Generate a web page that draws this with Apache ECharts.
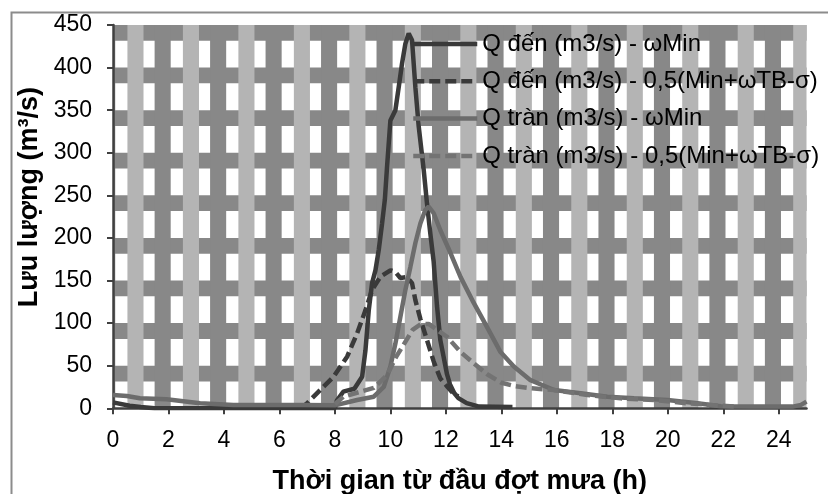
<!DOCTYPE html>
<html>
<head>
<meta charset="utf-8">
<script src="https://cdn.jsdelivr.net/npm/echarts@6/dist/echarts.min.js"></script>
<style>
  html, body { margin: 0; padding: 0; background: #ffffff; }
  #chart { width: 828px; height: 494px; }
</style>
</head>
<body>
<div id="chart"></div>
<script>
// ---- data ----
const xTicks = [0, 2, 4, 6, 8, 10, 12, 14, 16, 18, 20, 22, 24];
const yTicks = [0, 50, 100, 150, 200, 250, 300, 350, 400, 450];

const seriesNames = [
  'Q đến (m3/s) - ωMin',
  'Q đến (m3/s) - 0,5(Min+ωTB-σ)',
  'Q tràn (m3/s) - ωMin',
  'Q tràn (m3/s) - 0,5(Min+ωTB-σ)'
];

// Q đến - ωMin
const tDenMin = [0, 0.6, 1.0, 1.5, 8.0, 8.07, 8.3, 8.7, 8.98, 9.1, 9.22, 9.34, 9.46, 9.58, 9.7, 9.8, 9.88, 10.0, 10.18, 10.3, 10.42, 10.54, 10.66, 10.7, 10.78, 10.9, 11.02, 11.2, 11.32, 11.44, 11.56, 11.68, 11.8, 11.92, 12.04, 12.15, 12.3, 12.45, 12.75, 13.2, 14.4];
const qDenMin = [7, 3, 1.5, 0, 0, 9, 19.5, 23, 37, 68, 115, 147, 162, 186, 217, 245, 284, 338, 350, 377, 405, 428, 440, 441, 432, 377, 331, 280, 240, 205, 172, 120, 80, 60, 40, 28, 18, 12, 6, 2, 1.5];

// Q đến - 0,5(Min+ωTB-σ)
const tDenTb = [6.75, 7.0, 7.47, 7.95, 8.44, 8.8, 9.1, 9.34, 9.64, 10.0, 10.18, 10.36, 10.6, 10.78, 10.9, 11.08, 11.32, 11.56, 11.8, 12.04, 12.28, 12.45];
const qDenTb = [0, 6, 21.5, 37, 60.6, 88, 115, 139, 154.5, 162, 160, 153, 154, 147, 127, 105, 80, 55, 35, 26, 17, 14];

// Q tràn - ωMin
const tTranMin = [0, 0.5, 0.97, 1.93, 3.14, 4.34, 6.75, 8.0, 8.8, 9.4, 9.76, 10.0, 10.18, 10.36, 10.54, 10.72, 10.9, 11.08, 11.26, 11.38, 11.56, 11.8, 12.17, 12.53, 13.0, 13.49, 13.97, 14.45, 15.05, 15.9, 16.86, 17.82, 18.78, 19.99, 21.07, 21.91, 23.0, 24.5, 24.8, 25.0];
const qTranMin = [15.6, 14.5, 11.7, 10.5, 6, 4, 4, 3.5, 9.7, 13.6, 25, 49, 76, 107.5, 139, 166, 194, 217, 233, 236.7, 229, 209, 182, 154, 124, 95, 66, 49, 33, 21.5, 17.6, 13.6, 11.7, 9.7, 5.9, 2.5, 2, 2, 4, 7.8];

// Q tràn - 0,5(Min+ωTB-σ)
const tTranTb = [8.0, 8.31, 8.92, 9.4, 9.88, 10.2, 10.5, 10.8, 11.1, 11.38, 11.56, 12.04, 12.53, 13.0, 13.49, 14.0, 14.5, 15.05, 15.9, 17.1, 18.3, 19.5, 20.7, 21.5, 22.5];
const qTranTb = [5, 13.6, 19.5, 24, 39, 60, 76, 92, 99, 99, 95, 84, 66, 53, 40, 30, 26, 23.5, 21.5, 15.6, 11.7, 9.7, 5.9, 4, 2];

// ---- helpers ----
const zip = (ts, qs) => ts.map((t, i) => [t, qs[i]]);
const FONT = 'Liberation Sans';
const DARK_BAND = '#888888';
const LIGHT_BAND = '#b4b4b4';

const chart = echarts.init(document.getElementById('chart'), null, { renderer: 'canvas' });

function renderBackground(params, api) {
  const cs = params.coordSys;
  const clipBox = { x: cs.x, y: cs.y, width: cs.width, height: cs.height };
  const children = [];
  const band = (x0, x1, y0, y1, color) => {
    const p0 = api.coord([x0, y1]);
    const p1 = api.coord([x1, y0]);
    const shape = echarts.graphic.clipRectByRect(
      { x: p0[0], y: p0[1], width: p1[0] - p0[0], height: p1[1] - p0[1] }, clipBox);
    if (shape) children.push({ type: 'rect', shape: shape, style: { fill: color } });
  };
  const yMax = yTicks[yTicks.length - 1];
  yTicks.forEach(v => band(0, 25, v - 18.5, v, DARK_BAND));
  const step = xTicks[1] - xTicks[0];
  const all = xTicks.concat([xTicks[xTicks.length - 1] + step]);
  all.forEach(t => band(t - 0.5, t + 0.08, 0, yMax, DARK_BAND));
  all.forEach(t => band(t + 0.52, t + 1.1, 0, yMax, LIGHT_BAND));
  return { type: 'group', children: children };
}

const lineCommon = { type: 'line', symbol: 'none', showSymbol: false, smooth: false, z: 3 };

chart.setOption({
  animation: false,
  backgroundColor: '#ffffff',
  textStyle: { fontFamily: FONT },
  graphic: [{
    type: 'rect', left: 9, top: 10, z: 0,
    shape: { width: 840, height: 500 },
    style: { fill: 'none', stroke: '#8c8c8c', lineWidth: 2 }
  }],
  grid: { left: 113, right: 21.5, top: 25, bottom: 85.7, outerBoundsMode: 'none', containLabel: false },
  legend: {
    orient: 'vertical',
    left: 406, top: 27,
    itemWidth: 64, itemHeight: 14, itemGap: 13.3,
    data: seriesNames,
    itemStyle: { opacity: 0 },
    lineStyle: { width: 4.5 },
    textStyle: { fontFamily: FONT, fontSize: 24, color: '#000000', lineHeight: 24 }
  },
  xAxis: {
    type: 'value', min: 0, max: 25, interval: 2,
    name: 'Thời gian từ đầu đợt mưa (h)',
    nameLocation: 'middle', nameGap: 60,
    nameTextStyle: { fontFamily: FONT, fontSize: 27, fontWeight: 'bold', color: '#000000' },
    axisLine: { show: true, onZero: false, lineStyle: { color: '#404040', width: 2.5 } },
    axisTick: { show: true, inside: false, length: 6, customValues: xTicks, lineStyle: { color: '#404040', width: 2 } },
    axisLabel: { customValues: xTicks, fontFamily: FONT, fontSize: 23, color: '#000000', margin: 21 },
    splitLine: { show: false }
  },
  yAxis: {
    type: 'value', min: 0, max: 450, interval: 50,
    name: 'Lưu lượng (m³/s)',
    nameLocation: 'middle', nameGap: 68,
    nameTextStyle: { fontFamily: FONT, fontSize: 27, fontWeight: 'bold', color: '#000000', padding: [0, 0, 0, 39] },
    axisLine: { show: true, lineStyle: { color: '#404040', width: 2.5 } },
    axisTick: { show: true, inside: false, length: 6, lineStyle: { color: '#404040', width: 2 } },
    axisLabel: { fontFamily: FONT, fontSize: 23, color: '#000000', margin: 21 },
    splitLine: { show: false }
  },
  series: [
    {
      type: 'custom', name: 'background', silent: true, z: -1,
      renderItem: renderBackground, data: [[0, 0]], tooltip: { show: false }
    },
    Object.assign({}, lineCommon, {
      name: seriesNames[0], data: zip(tDenMin, qDenMin),
      lineStyle: { color: '#3a3a3a', width: 4.5, type: 'solid' }, itemStyle: { color: '#3a3a3a' }
    }),
    Object.assign({}, lineCommon, {
      name: seriesNames[1], data: zip(tDenTb, qDenTb),
      lineStyle: { color: '#3a3a3a', width: 4.5, type: [11, 5] }, itemStyle: { color: '#3a3a3a' }
    }),
    Object.assign({}, lineCommon, {
      name: seriesNames[2], data: zip(tTranMin, qTranMin),
      lineStyle: { color: '#6c6c6c', width: 4.5, type: 'solid' }, itemStyle: { color: '#6c6c6c' }
    }),
    Object.assign({}, lineCommon, {
      name: seriesNames[3], data: zip(tTranTb, qTranTb),
      lineStyle: { color: '#737373', width: 4.5, type: [11, 5] }, itemStyle: { color: '#737373' }
    })
  ]
});
</script>
</body>
</html>
